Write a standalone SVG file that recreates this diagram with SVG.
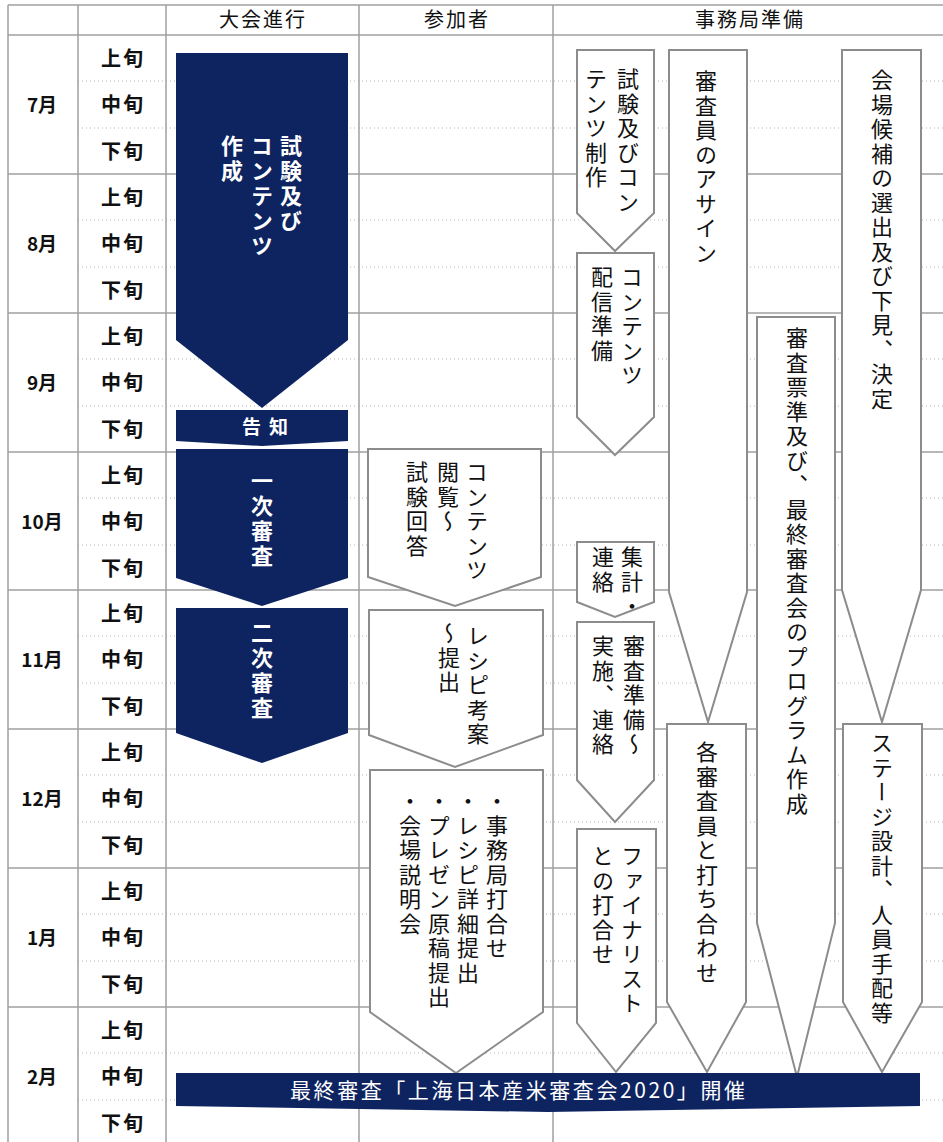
<svg xmlns="http://www.w3.org/2000/svg" width="943" height="1142" viewBox="0 0 943 1142">
<style>
.grid{stroke:#a0a0a0;stroke-width:1.5;fill:none}
.dot{stroke:#b5b5b5;stroke-width:1;stroke-dasharray:1 3;fill:none}
.navy{fill:#0e2461}
.box{fill:#fff;stroke:#8c8c8c;stroke-width:2}
text{font-family:'Noto Sans CJK JP','Noto Sans CJK SC',sans-serif}
.hd{font-size:20px;letter-spacing:2px;fill:#111;text-anchor:middle}
.mo{font-size:19px;font-weight:bold;fill:#111;text-anchor:middle}
.jn{font-size:20px;font-weight:bold;fill:#111;text-anchor:middle;letter-spacing:2px}
.v{writing-mode:vertical-rl;font-size:22px;letter-spacing:2.5px;fill:#111}
.vw{writing-mode:vertical-rl;font-size:22px;letter-spacing:3px;fill:#fff;font-weight:bold}
.hw{font-size:19px;fill:#fff;font-weight:bold}
</style>
<rect width="943" height="1142" fill="#fff"/>
<g id="grid">
<g class="dot">
<path d="M78 81H943M78 128H943M78 220H943M78 267H943M78 359H943M78 406H943M78 498H943M78 545H943M78 636H943M78 683H943M78 775H943M78 822H943M78 914H943M78 961H943M78 1053H943M78 1100H943"/>
</g>
<g class="grid">
<path d="M8 5H943M8 35H943M8 174H943M8 313H943M8 452H943M8 590H943M8 729H943M8 868H943M8 1007H943"/>
<path d="M8 5V1142M78 5V1142M166 5V1142M359 5V1142M553 5V1142"/>
</g>
</g>
<g id="headers">
<text class="hd" x="263" y="27">大会進行</text>
<text class="hd" x="457" y="27">参加者</text>
<text class="hd" x="750" y="27">事務局準備</text>
</g>
<g id="months">
<text class="mo" x="42" y="112">7月</text>
<text class="mo" x="42" y="251">8月</text>
<text class="mo" x="42" y="390">9月</text>
<text class="mo" x="42" y="529">10月</text>
<text class="mo" x="42" y="667">11月</text>
<text class="mo" x="42" y="806">12月</text>
<text class="mo" x="42" y="945">1月</text>
<text class="mo" x="42" y="1084">2月</text>
</g>
<g id="junn">
<text class="jn" x="123" y="66">上旬</text>
<text class="jn" x="123" y="112">中旬</text>
<text class="jn" x="123" y="159">下旬</text>
<text class="jn" x="123" y="205">上旬</text>
<text class="jn" x="123" y="251">中旬</text>
<text class="jn" x="123" y="298">下旬</text>
<text class="jn" x="123" y="344">上旬</text>
<text class="jn" x="123" y="390">中旬</text>
<text class="jn" x="123" y="437">下旬</text>
<text class="jn" x="123" y="483">上旬</text>
<text class="jn" x="123" y="529">中旬</text>
<text class="jn" x="123" y="576">下旬</text>
<text class="jn" x="123" y="621">上旬</text>
<text class="jn" x="123" y="667">中旬</text>
<text class="jn" x="123" y="714">下旬</text>
<text class="jn" x="123" y="760">上旬</text>
<text class="jn" x="123" y="806">中旬</text>
<text class="jn" x="123" y="853">下旬</text>
<text class="jn" x="123" y="899">上旬</text>
<text class="jn" x="123" y="945">中旬</text>
<text class="jn" x="123" y="992">下旬</text>
<text class="jn" x="123" y="1038">上旬</text>
<text class="jn" x="123" y="1084">中旬</text>
<text class="jn" x="123" y="1131">下旬</text>
</g>
<g id="n-create">
<polygon class="navy" points="176,53 348,53 348,340 262,408 176,340"/>
<text class="vw" x="291" y="135">試験及び</text>
<text class="vw" x="262" y="135">コンテンツ</text>
<text class="vw" x="232" y="135">作成</text>
</g>
<g id="n-notice">
<polygon class="navy" points="176,410 348,410 348,441 262,446 176,441"/>
<text class="hw" x="242" y="434" style="letter-spacing:8px">告知</text>
</g>
<g id="n-first">
<polygon class="navy" points="176,449 348,449 348,578 262,606 176,578"/>
<text class="vw" x="262" y="470">一次審査</text>
</g>
<g id="n-second">
<polygon class="navy" points="176,608 348,608 348,733 262,763 176,733"/>
<text class="vw" x="262" y="622">二次審査</text>
</g>
<g id="p-browse">
<polygon class="box" points="368,449 541,449 541,577 455,606 368,577"/>
<text class="v" x="477" y="461">コンテンツ</text>
<text class="v" x="448" y="461">閲覧～</text>
<text class="v" x="417" y="461">試験回答</text>
</g>
<g id="p-recipe">
<polygon class="box" points="369,610 543,610 543,735 455,767 369,735"/>
<text class="v" x="478" y="625">レシピ考案</text>
<text class="v" x="449" y="622">～提出</text>
</g>
<g id="p-final">
<polygon class="box" points="370,770 543,770 543,1012 456,1073 370,1012"/>
<text class="v" x="497" y="790">・事務局打合せ</text>
<text class="v" x="468" y="790">・レシピ詳細提出</text>
<text class="v" x="439" y="790">・プレゼン原稿提出</text>
<text class="v" x="410" y="790">・会場説明会</text>
</g>
<g id="s-content">
<polygon class="box" points="577,50 654,50 654,213 615,251 577,213"/>
<text class="v" x="628" y="68">試験及びコン</text>
<text class="v" x="596" y="68">テンツ制作</text>
</g>
<g id="s-deliver">
<polygon class="box" points="577,253 654,253 654,417 615,455 577,417"/>
<text class="v" x="632" y="266">コンテンツ</text>
<text class="v" x="602" y="266">配信準備</text>
</g>
<g id="s-count">
<polygon class="box" points="577,542 654,542 654,602 615,617 577,602"/>
<text class="v" x="632" y="546">集計・</text>
<text class="v" x="603" y="546">連絡</text>
</g>
<g id="s-prep">
<polygon class="box" points="577,622 654,622 654,780 615,822 577,780"/>
<text class="v" x="634" y="635">審査準備～</text>
<text class="v" x="603" y="635">実施、連絡</text>
</g>
<g id="s-finalist">
<polygon class="box" points="577,829 656,829 656,1023 616,1072 577,1023"/>
<text class="v" x="632" y="845">ファイナリスト</text>
<text class="v" x="603" y="845">との打合せ</text>
</g>
<g id="s-assign">
<polygon class="box" points="669,50 747,50 747,592 708,722 669,592"/>
<text class="v" x="706" y="70">審査員のアサイン</text>
</g>
<g id="s-meet">
<polygon class="box" points="667,724 746,724 746,1002 707,1072 667,1002"/>
<text class="v" x="707" y="741">各審査員と打ち合わせ</text>
</g>
<g id="s-program">
<polygon class="box" points="757,317 835,317 835,923 797,1077 757,923"/>
<text class="v" x="797" y="327">審査票準及び、最終審査会のプログラム作成</text>
</g>
<g id="s-venue">
<polygon class="box" points="842,50 921,50 921,590 882,722 842,590"/>
<text class="v" x="882" y="69">会場候補の選出及び下見、決定</text>
</g>
<g id="s-stage">
<polygon class="box" points="843,724 922,724 922,1002 882,1072 843,1002"/>
<text class="v" x="882" y="732">ステージ設計、人員手配等</text>
</g>
<g id="n-event">
<polygon class="navy" points="176,1073 920,1073 920,1106 548,1112 176,1106"/>
<text class="hw" x="290" y="1098" style="font-size:21px;font-weight:normal" textLength="455" lengthAdjust="spacing">最終審査「上海日本産米審査会2020」開催</text>
</g>
<g id="connectors"></g>
</svg>
